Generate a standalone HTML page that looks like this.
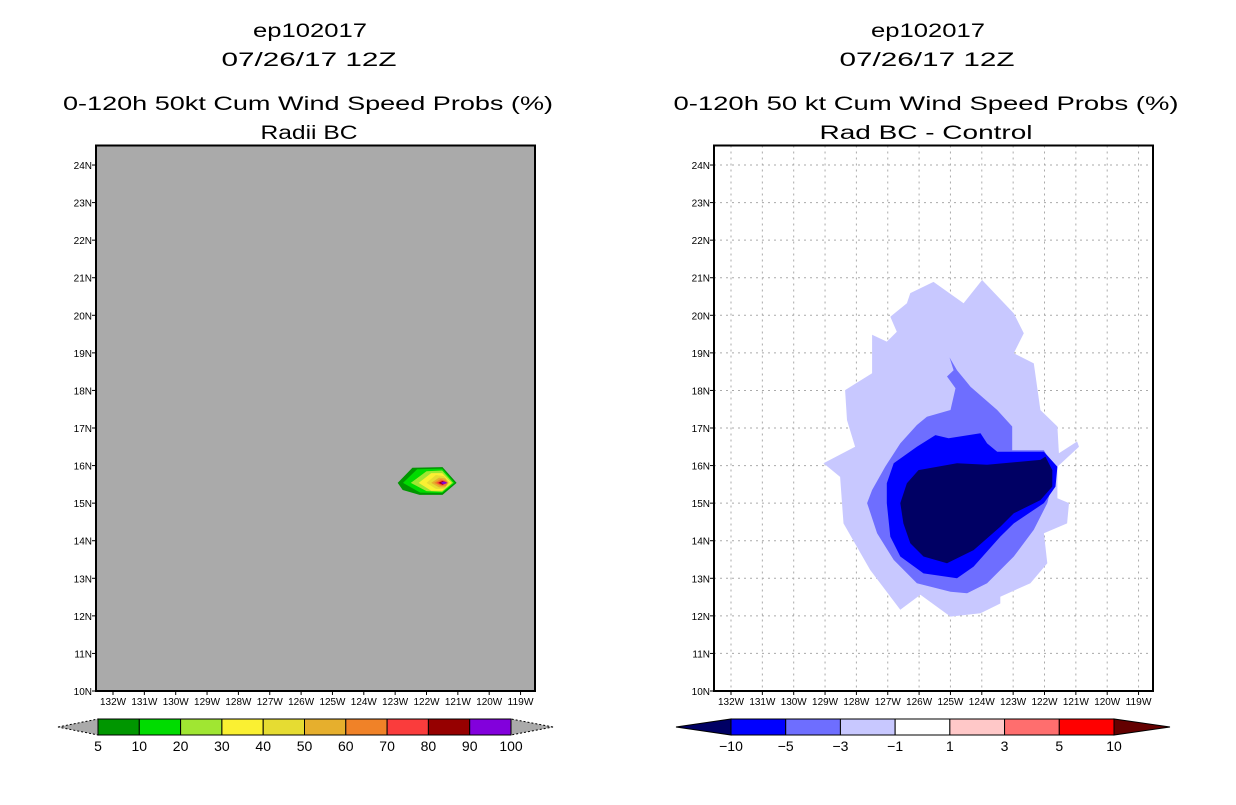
<!DOCTYPE html>
<html><head><meta charset="utf-8"><style>
body{margin:0;background:#fff;width:1236px;height:800px;overflow:hidden}
svg text{font-family:"Liberation Sans",sans-serif}
</style></head><body>
<svg id="root" width="1236" height="800" xmlns="http://www.w3.org/2000/svg">
<g font-size="19" text-anchor="middle" fill="#000" lengthAdjust="spacingAndGlyphs">
<text x="310" y="37" textLength="114" lengthAdjust="spacingAndGlyphs">ep102017</text>
<text x="309" y="66" textLength="175" lengthAdjust="spacingAndGlyphs">07/26/17 12Z</text>
<text x="308" y="110" textLength="490" lengthAdjust="spacingAndGlyphs">0-120h 50kt Cum Wind Speed Probs (%)</text>
<text x="309" y="139" textLength="97" lengthAdjust="spacingAndGlyphs">Radii BC</text>
</g>
<g font-size="19" text-anchor="middle" fill="#000">
<text x="928" y="37" textLength="114" lengthAdjust="spacingAndGlyphs">ep102017</text>
<text x="927" y="66" textLength="175" lengthAdjust="spacingAndGlyphs">07/26/17 12Z</text>
<text x="926" y="110" textLength="505" lengthAdjust="spacingAndGlyphs">0-120h 50 kt Cum Wind Speed Probs (%)</text>
<text x="926" y="139" textLength="213" lengthAdjust="spacingAndGlyphs">Rad BC - Control</text>
</g>
<g id="left"></g>
<g id="right"></g>
<g id="lcb"></g>
<g id="rcb"></g>
</svg>
<script>
const lonTicks=[132,131,130,129,128,127,126,125,124,123,122,121,120,119];
const latTicks=[10,11,12,13,14,15,16,17,18,19,20,21,22,23,24];
// left panel contours (lonW, latN)
const leftLevels=[5,10,20,30,40,50,60,70,80,90];
const leftColors=["#009600","#00dc00","#a0e632","#faf032","#e6dc32","#e6af2d","#f08228","#fa3c3c","#960000","#8200dc"];
const leftPolys=[
[[122.92,15.54],[122.45,15.94],[121.49,15.96],[121.04,15.54],[121.49,15.22],[122.22,15.22],[122.76,15.35]],
[[122.75,15.54],[122.3,15.9],[121.5,15.92],[121.1,15.54],[121.5,15.27],[122.2,15.28]],
[[122.5,15.54],[122.0,15.85],[121.5,15.87],[121.15,15.54],[121.5,15.3],[122.0,15.32]],
[[122.25,15.54],[121.85,15.8],[121.5,15.8],[121.2,15.54],[121.5,15.33],[121.85,15.33]],
[[122.0,15.54],[121.7,15.75],[121.45,15.72],[121.25,15.54],[121.45,15.38],[121.7,15.38]],
[[121.85,15.54],[121.6,15.68],[121.4,15.66],[121.3,15.54],[121.4,15.42],[121.6,15.42]],
[[121.75,15.54],[121.55,15.64],[121.38,15.6],[121.32,15.54],[121.38,15.46],[121.55,15.46]],
[[121.68,15.54],[121.5,15.61],[121.36,15.56],[121.5,15.47]],
[[121.62,15.54],[121.48,15.59],[121.36,15.55],[121.48,15.49]],
[[121.55,15.54],[121.45,15.58],[121.33,15.54],[121.45,15.5]]
];
// right panel difference contours
const rightLevels=[-1,-3,-5,-10];
const rightColors=["#c8c8ff","#6e6eff","#0000ff","#000064"];
const rightPolys=[
[[125.54,20.89],[124.58,20.32],[123.99,20.94],[122.98,20.05],[122.66,19.52],[122.98,18.99],[122.34,18.72],[122.13,17.48],[121.59,17.04],[121.54,16.33],[120.96,16.64],[120.9,16.5],[121.59,15.97],[121.59,15.13],[121.22,15.0],[121.28,14.46],[122.02,14.2],[121.91,13.4],[122.45,12.87],[123.41,12.51],[123.41,12.33],[124.04,12.07],[125.0,11.98],[125.96,12.56],[126.6,12.16],[127.56,13.22],[128.41,14.46],[128.52,15.7],[129.05,16.06],[128.04,16.5],[128.3,17.21],[128.36,18.01],[127.5,18.46],[127.5,19.48],[127.03,19.3],[126.71,19.56],[126.92,19.96],[126.39,20.32],[126.28,20.59]],
[[125.03,18.88],[124.9,18.54],[125.11,18.37],[124.84,18.06],[125.0,17.48],[125.75,17.3],[126.07,17.08],[126.6,16.59],[127.08,15.97],[127.5,15.35],[127.66,15.0],[127.34,14.2],[126.81,13.49],[126.07,12.87],[125.0,12.64],[124.47,12.6],[123.83,12.87],[122.98,13.58],[122.34,14.29],[121.91,15.0],[121.65,15.88],[122.02,16.41],[123.03,16.41],[123.03,17.04],[123.51,17.48],[124.36,18.1],[124.79,18.54]],
[[125.48,16.81],[125.06,16.73],[124.04,16.86],[123.83,16.59],[123.51,16.37],[122.02,16.37],[121.59,15.97],[121.65,15.44],[122.02,15.0],[122.98,14.46],[123.41,14.11],[124.26,13.31],[124.79,13.0],[125.86,13.13],[126.6,13.58],[126.92,14.11],[127.03,15.0],[127.03,15.53],[126.81,16.06],[126.07,16.5]],
[[124.79,16.06],[123.83,16.02],[122.13,16.15],[121.97,16.24],[121.75,15.88],[121.75,15.44],[122.13,15.08],[122.98,14.73],[123.41,14.37],[124.26,13.75],[125.11,13.4],[125.86,13.58],[126.28,13.93],[126.5,14.46],[126.6,15.0],[126.39,15.53],[126.02,15.88]]
];
const leftCbLabels=["5","10","20","30","40","50","60","70","80","90","100"];
const rightCbLabels=["-10","-5","-3","-1","1","3","5","10"];
const rightCbColors=["#0000ff","#6e6eff","#c8c8ff","#ffffff","#ffc8c8","#ff6e6e","#ff0000"];

const NS="http://www.w3.org/2000/svg";
function mk(p,t,a){const e=document.createElementNS(NS,t);for(const k in a)e.setAttribute(k,a[k]);p.appendChild(e);return e;}
function panel(g,x0,bg,grid,polys,colors,pname){
  const top=145.5,bot=691,left=x0,right=x0+439;
  const xs=l=>x0+17+(132-l)*31.35;
  const ys=la=>691-(la-10)*37.57;
  const r=mk(g,'rect',{x:left,y:top,width:439,height:bot-top,fill:bg});
  
  
  if(grid){
    lonTicks.forEach(l=>{const ln=mk(g,'line',{x1:xs(l),x2:xs(l),y1:top,y2:bot,stroke:'#aaa','stroke-dasharray':'2,4'});
      
      });
    latTicks.forEach(la=>{const ln=mk(g,'line',{x1:left,x2:right,y1:ys(la),y2:ys(la),stroke:'#aaa','stroke-dasharray':'2,4'});
      
      });
  }
  polys.forEach((p,i)=>{const pg=mk(g,'polygon',{points:p.map(q=>xs(q[0]).toFixed(1)+','+ys(q[1]).toFixed(1)).join(' '),fill:colors[i]});
    
    });
  const b=mk(g,'rect',{x:left,y:top,width:439,height:bot-top,fill:'none',stroke:'#000','stroke-width':2});
  
  
  lonTicks.forEach(l=>{
    mk(g,'line',{x1:xs(l),x2:xs(l),y1:bot,y2:bot+4,stroke:'#000'});
    const t=mk(g,'text',{x:xs(l),y:bot+14,'font-size':10,'text-anchor':'middle',textLength:26,lengthAdjust:'spacingAndGlyphs'});
    t.textContent=l+'W';
    
    
  });
  latTicks.forEach(la=>{
    mk(g,'line',{x1:left-4,x2:left,y1:ys(la),y2:ys(la),stroke:'#000'});
    const t=mk(g,'text',{x:left-4,y:ys(la)+4,'font-size':10,'text-anchor':'end'});
    t.textContent=la+'N';
    
    
  });
}
panel(document.getElementById('left'),96,'#aaaaaa',false,leftPolys,leftColors,'left');
panel(document.getElementById('right'),714,'#ffffff',true,rightPolys,rightColors,'right');

function colorbar(g,x0,x1,tl,tr,cols,labels,lc,rc){
  const y0=719,y1=735,ym=727,w=(x1-x0)/cols.length;
  const a=mk(g,'polygon',{points:`${tl},${ym} ${x0},${y0} ${x0},${y1}`,fill:lc,stroke:'#000','stroke-dasharray':lc=='#aaaaaa'?'2,2':'none'});
  
  
  const c=mk(g,'polygon',{points:`${tr},${ym} ${x1},${y0} ${x1},${y1}`,fill:rc,stroke:'#000','stroke-dasharray':rc=='#aaaaaa'?'2,2':'none'});
  
  
  cols.forEach((col,i)=>{const r=mk(g,'rect',{x:x0+i*w,y:y0,width:w,height:y1-y0,fill:col,stroke:'#000','stroke-width':1});
    
    });
  labels.forEach((l,i)=>{const t=mk(g,'text',{x:x0+i*w,y:751,'font-size':14,'text-anchor':'middle'});
    t.textContent=l.replace('-','\u2212');
    
    });
}
colorbar(document.getElementById('lcb'),98,511,58,553,leftColors,leftCbLabels,'#aaaaaa','#aaaaaa');
colorbar(document.getElementById('rcb'),731,1114,676,1170,rightCbColors,rightCbLabels,'#000064','#640000');
</script>
</body></html>
